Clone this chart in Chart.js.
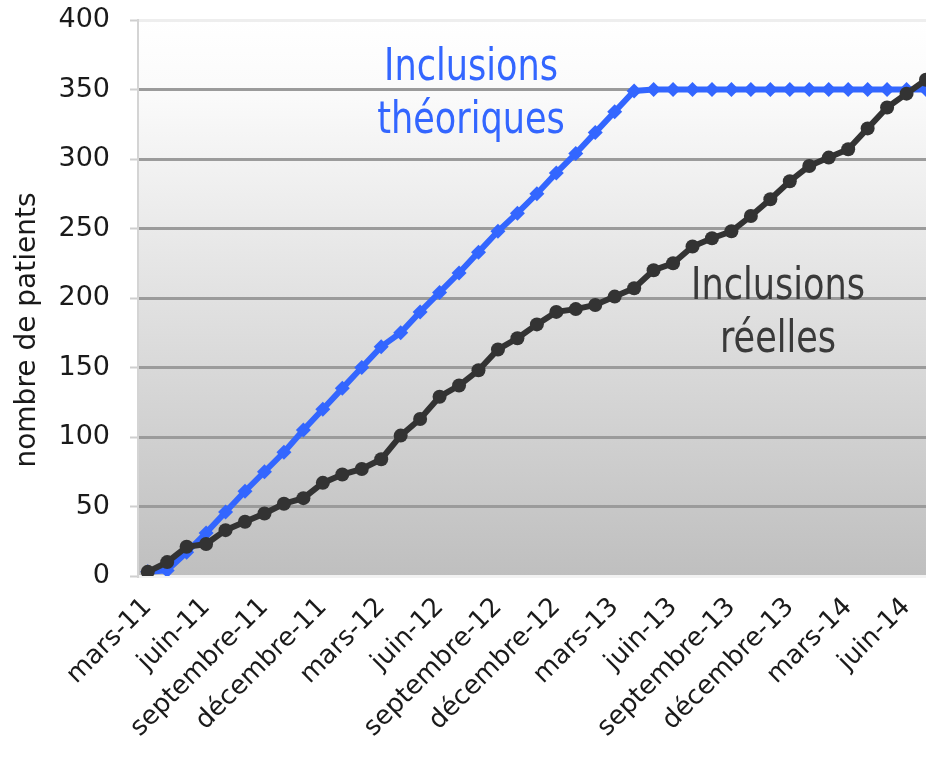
<!DOCTYPE html>
<html>
<head>
<meta charset="utf-8">
<script src="https://cdn.jsdelivr.net/npm/chart.js@4.4.1/dist/chart.umd.min.js"></script>
<style>
html,body{margin:0;padding:0;background:#ffffff;}
#wrap{width:926px;height:758px;position:relative;}
</style>
</head>
<body>
<div id="wrap"><canvas id="c" width="926" height="758"></canvas></div>
<script>
// ---- data ----
const months = [
  'mars-11','avril-11','mai-11','juin-11','juillet-11','août-11','septembre-11','octobre-11','novembre-11','décembre-11',
  'janvier-12','février-12','mars-12','avril-12','mai-12','juin-12','juillet-12','août-12','septembre-12','octobre-12','novembre-12','décembre-12',
  'janvier-13','février-13','mars-13','avril-13','mai-13','juin-13','juillet-13','août-13','septembre-13','octobre-13','novembre-13','décembre-13',
  'janvier-14','février-14','mars-14','avril-14','mai-14','juin-14','juillet-14'
];
const tickLabels = ['mars-11','juin-11','septembre-11','décembre-11','mars-12','juin-12','septembre-12','décembre-12','mars-13','juin-13','septembre-13','décembre-13','mars-14','juin-14'];
const inclusionsTheoriques = [3,4,17,31,46,61,75,89,105,120,135,150,165,175,190,204,218,233,248,261,275,290,304,319,334,349,
  350,350,350,350,350,350,350,350,350,350,350,350,350,350,350];
const inclusionsReelles = [3,10,21,23,33,39,45,52,56,67,73,77,84,101,113,129,137,148,163,171,181,190,192,195,201,207,220,225,237,243,248,259,271,284,295,301,307,322,337,347,357];
const yTitle = 'nombre de patients';
const labelTheo = ['Inclusions','théoriques'];
const labelReel = ['Inclusions','réelles'];

// ---- plugins ----
const plotBg = {
  id:'plotBg',
  beforeDraw(chart){
    const {ctx, chartArea:a} = chart;
    const g = ctx.createLinearGradient(0,a.top,0,a.bottom);
    g.addColorStop(0,'#ffffff');
    g.addColorStop(0.14,'#fafafa');
    g.addColorStop(1,'#bfbfbf');
    ctx.save();
    ctx.fillStyle = g;
    ctx.fillRect(a.left,a.top,a.right-a.left,a.bottom-a.top);
    ctx.restore();
  }
};
function drawLabel(ctx, text, cx, baseline, color){
  ctx.save();
  ctx.font = '45px "DejaVu Sans"';
  ctx.translate(cx, baseline);
  ctx.scale(0.78,1);
  ctx.textAlign='center';
  ctx.textBaseline='alphabetic';
  ctx.fillStyle=color;
  ctx.fillText(text,0,0);
  ctx.restore();
}
const texts = {
  id:'texts',
  afterDraw(chart){
    const ctx = chart.ctx;
    drawLabel(ctx, labelTheo[0], 471, 80, '#3366ff');
    drawLabel(ctx, labelTheo[1], 471, 133, '#3366ff');
    drawLabel(ctx, labelReel[0], 778, 299, '#3a3a3a');
    drawLabel(ctx, labelReel[1], 778, 352, '#3a3a3a');
    ctx.save();
    ctx.font = '28px "DejaVu Sans"';
    ctx.fillStyle = '#1a1a1a';
    ctx.translate(28, 330);
    ctx.rotate(-Math.PI/2);
    ctx.textAlign='center';
    ctx.textBaseline='middle';
    ctx.fillText(yTitle,0,0);
    ctx.restore();
  }
};

const tickPositions = tickLabels.map(l => months.indexOf(l));

new Chart(document.getElementById('c'), {
  type:'line',
  data:{
    labels: months.map((m,i)=>i),
    datasets:[
      {
        label:'Inclusions réelles',
        data: inclusionsReelles,
        borderColor:'#333333',
        backgroundColor:'#333333',
        borderWidth:6,
        pointStyle:'circle',
        pointRadius:7,
        pointBorderWidth:0,
        tension:0
      },
      {
        label:'Inclusions théoriques',
        data: inclusionsTheoriques,
        borderColor:'#3366ff',
        backgroundColor:'#3366ff',
        borderWidth:6,
        pointStyle:'rectRot',
        pointRadius:7.5,
        pointBorderWidth:0,
        tension:0
      }
    ]
  },
  options:{
    responsive:false,
    animation:false,
    devicePixelRatio:1,
    layout:{autoPadding:false,padding:{left:0,top:20,right:0,bottom:0}},
    plugins:{legend:{display:false},tooltip:{enabled:false}},
    scales:{
      x:{
        type:'linear',
        min:-0.5,
        max:40,
        grid:{display:false,drawTicks:false},
        border:{display:false},
        afterBuildTicks(scale){ scale.ticks = tickPositions.map(v=>({value:v})); },
        afterFit(scale){ scale.height = 182; scale.paddingLeft = 0; scale.paddingRight = 0; },
        ticks:{
          autoSkip:false,
          minRotation:45,
          maxRotation:45,
          padding:16,
          color:'#1a1a1a',
          font:{family:'"DejaVu Sans"',size:26},
          callback:(v)=>months[v]
        }
      },
      y:{
        min:0,max:400,
        afterFit(scale){ scale.width = 138; scale.paddingTop = 0; scale.paddingBottom = 0; },
        ticks:{stepSize:50,padding:20,color:'#1a1a1a',font:{family:'"DejaVu Sans"',size:27}},
        grid:{
          color:(c)=> (c.tick && c.tick.value===0) ? '#f2f2f2' : (c.tick && c.tick.value===400) ? '#eeeeee' : '#9b9b9b',
          lineWidth:3,
          tickColor:'#cfcfcf',
          tickLength:8,
          tickWidth:2
        },
        border:{display:true,color:'#d4d4d4',width:2}
      }
    }
  },
  plugins:[plotBg,texts]
});
</script>
</body>
</html>
